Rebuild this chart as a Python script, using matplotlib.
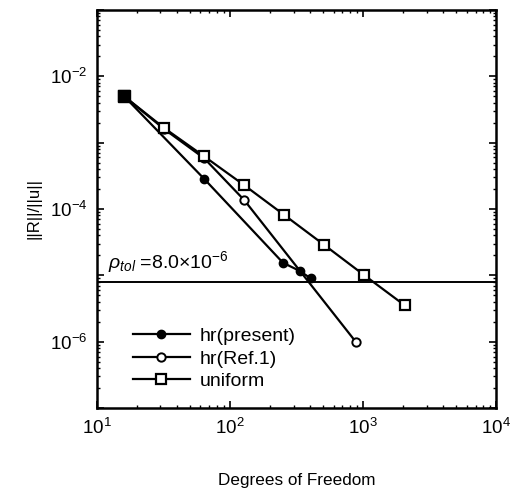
import numpy as np
import matplotlib
matplotlib.use("Agg")
import matplotlib.pyplot as plt

plt.rcParams['font.family'] = ['Liberation Sans', 'DejaVu Sans']
plt.rcParams['mathtext.fontset'] = 'custom'
plt.rcParams['mathtext.rm'] = 'Liberation Sans'
plt.rcParams['mathtext.it'] = 'Liberation Sans:italic'
plt.rcParams['mathtext.default'] = 'regular'

# data
dof_present = [16, 64, 250, 336, 404]
err_present = [5.0e-3, 2.84e-4, 1.55e-5, 1.16e-5, 9.0e-6]

dof_ref1 = [16, 32, 64, 128, 880]
err_ref1 = [5.0e-3, 1.6e-3, 5.8e-4, 1.36e-4, 1.0e-6]

dof_uniform = [16, 32, 64, 128, 256, 512, 1024, 2048]
err_uniform = [5.0e-3, 1.66e-3, 6.2e-4, 2.28e-4, 8.1e-5, 2.86e-5, 1.0e-5, 3.55e-6]

rho_tol = 8.0e-6

fig = plt.figure(figsize=(5.18, 4.90), dpi=100)
ax = fig.add_axes([0.187, 0.167, 0.771, 0.813])

ax.plot(dof_present, err_present, color='black', lw=1.6, marker='o', ms=6,
        mfc='black', mec='black', label='hr(present)')
ax.plot(dof_ref1, err_ref1, color='black', lw=1.6, marker='o', ms=6,
        mfc='white', mec='black', mew=1.4, label='hr(Ref.1)')
ax.plot(dof_uniform, err_uniform, color='black', lw=1.6, marker='s', ms=7,
        mfc='white', mec='black', mew=1.6, label='uniform')
# first point drawn as a filled square in the reference
ax.plot(dof_uniform[:1], err_uniform[:1], ls='none', marker='s', ms=8,
        mfc='black', mec='black')

ax.axhline(rho_tol, color='black', lw=1.4)
ax.text(12.1, rho_tol * 1.25, r'$\it{\rho_{tol}}$ =8.0$\times$10$^{-6}$',
        fontsize=14, va='bottom', ha='left')

ax.set_xscale('log')
ax.set_yscale('log')
ax.set_xlim(10, 1e4)
ax.set_ylim(1e-7, 1e-1)
ax.set_xticks([1e1, 1e2, 1e3, 1e4])
ax.set_xticklabels([r'$10^{1}$', r'$10^{2}$', r'$10^{3}$', r'$10^{4}$'])
ax.set_yticks([1e-7, 1e-6, 1e-5, 1e-4, 1e-3, 1e-2, 1e-1])
ax.set_yticklabels(['', r'$10^{-6}$', '', r'$10^{-4}$', '', r'$10^{-2}$', ''])
ax.yaxis.set_minor_locator(matplotlib.ticker.LogLocator(base=10, subs=np.arange(2, 10), numticks=20))
ax.yaxis.set_minor_formatter(matplotlib.ticker.NullFormatter())
ax.xaxis.set_minor_formatter(matplotlib.ticker.NullFormatter())
ax.tick_params(which='both', direction='in', top=True, right=True)
ax.tick_params(which='major', length=5, width=1.2, labelsize=13.5, pad=7)
ax.tick_params(which='minor', length=2.5, width=1.0)
for s in ax.spines.values():
    s.set_linewidth(1.8)

ax.set_xlabel('Degrees of Freedom', fontsize=12.3, labelpad=25)
ax.set_ylabel('||R||/||u||', fontsize=12, labelpad=6)

ax.legend(loc='lower left', bbox_to_anchor=(0.09, 0.045), frameon=False,
          fontsize=14, handlelength=2.95, handletextpad=0.5, labelspacing=0.25,
          borderpad=0, borderaxespad=0)

fig.savefig('out.png', dpi=100)
